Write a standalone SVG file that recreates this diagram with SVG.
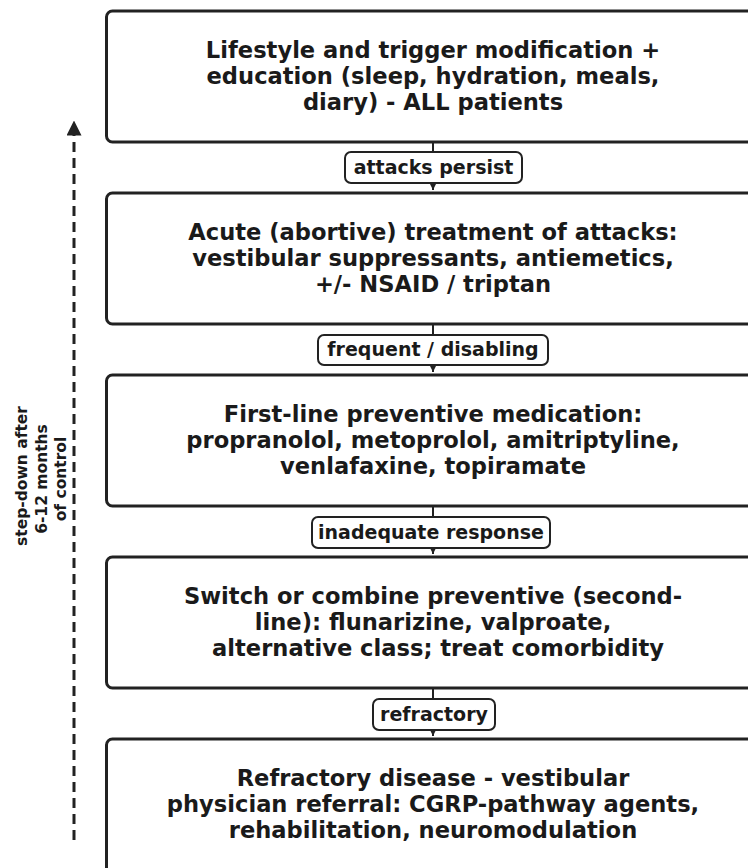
<svg xmlns="http://www.w3.org/2000/svg" width="748" height="868" viewBox="0 0 748 868">
<defs>
<style>
.box{fill:#fff;stroke:#222;stroke-width:3}
.t{font-family:"DejaVu Sans",sans-serif;font-weight:bold;font-size:22.6px;fill:#1a1a1a;text-anchor:middle}
.lb{fill:#fff;stroke:#222;stroke-width:2}
.lt{font-family:"DejaVu Sans",sans-serif;font-weight:bold;font-size:19px;fill:#1a1a1a;text-anchor:middle}
.st{font-family:"DejaVu Sans",sans-serif;font-weight:bold;font-size:15.5px;fill:#1a1a1a;text-anchor:middle}
.c{stroke:#222;stroke-width:2;fill:none}
</style>
<marker id="ah" viewBox="0 0 10 10" refX="10" refY="5" markerWidth="5" markerHeight="5" orient="auto"><path d="M0,0 L10,5 L0,10 z" fill="#222"/></marker>
<marker id="ah2" viewBox="0 0 10 10" refX="9" refY="5" markerWidth="5" markerHeight="5" orient="auto"><path d="M0,0 L10,5 L0,10 z" fill="#222"/></marker>
</defs>
<rect width="748" height="868" fill="#fff"/>
<g id="n1"><rect class="box" x="106.5" y="11" width="653" height="131" rx="6"/>
<text class="t" x="433" y="58">Lifestyle and trigger modification +</text>
<text class="t" x="433" y="84">education (sleep, hydration, meals,</text>
<text class="t" x="433" y="110">diary) - ALL patients</text></g>
<g id="n2"><rect class="box" x="106.5" y="193" width="653" height="131" rx="6"/>
<text class="t" x="433" y="240">Acute (abortive) treatment of attacks:</text>
<text class="t" x="433" y="266">vestibular suppressants, antiemetics,</text>
<text class="t" x="433" y="292">+/- NSAID / triptan</text></g>
<g id="n3"><rect class="box" x="106.5" y="375" width="653" height="131" rx="6"/>
<text class="t" x="433" y="422">First-line preventive medication:</text>
<text class="t" x="433" y="448">propranolol, metoprolol, amitriptyline,</text>
<text class="t" x="433" y="474">venlafaxine, topiramate</text></g>
<g id="n4"><rect class="box" x="106.5" y="557" width="653" height="131" rx="6"/>
<text class="t" x="433" y="604">Switch or combine preventive (second-</text>
<text class="t" x="433" y="630">line): flunarizine, valproate,</text>
<text class="t" x="438" y="656">alternative class; treat comorbidity</text></g>
<g id="n5"><rect class="box" x="106.5" y="739" width="653" height="140" rx="6"/>
<text class="t" x="433" y="786">Refractory disease - vestibular</text>
<text class="t" x="433" y="812">physician referral: CGRP-pathway agents,</text>
<text class="t" x="433" y="838">rehabilitation, neuromodulation</text></g>
<g id="connectors">
<line class="c" x1="433" y1="142" x2="433" y2="152"/>
<line class="c" x1="433" y1="183" x2="433" y2="190" marker-end="url(#ah)"/>
<line class="c" x1="433" y1="324" x2="433" y2="335"/>
<line class="c" x1="433" y1="365" x2="433" y2="372" marker-end="url(#ah)"/>
<line class="c" x1="433" y1="506" x2="433" y2="517"/>
<line class="c" x1="433" y1="548" x2="433" y2="554" marker-end="url(#ah)"/>
<line class="c" x1="433" y1="688" x2="433" y2="699"/>
<line class="c" x1="433" y1="730" x2="433" y2="736" marker-end="url(#ah)"/>
<g id="l1"><rect class="lb" x="345" y="152" width="177" height="31" rx="6"/><text class="lt" x="433.5" y="174">attacks persist</text></g>
<g id="l2"><rect class="lb" x="318" y="335" width="230" height="30" rx="6"/><text class="lt" x="433" y="356">frequent / disabling</text></g>
<g id="l3"><rect class="lb" x="312" y="517" width="238" height="31" rx="6"/><text class="lt" x="431" y="539">inadequate response</text></g>
<g id="l4"><rect class="lb" x="373" y="699" width="122" height="31" rx="6"/><text class="lt" x="434" y="721">refractory</text></g>
<line x1="74" y1="840" x2="74" y2="122" stroke="#222" stroke-width="3" stroke-dasharray="10,6" marker-end="url(#ah2)"/>
</g>
<g id="side">
<text class="st" transform="translate(27,476) rotate(-90)" x="0" y="0">step-down after</text>
<text class="st" transform="translate(47,479) rotate(-90)" x="0" y="0">6-12 months</text>
<text class="st" transform="translate(66,479) rotate(-90)" x="0" y="0">of control</text>
</g>
</svg>
